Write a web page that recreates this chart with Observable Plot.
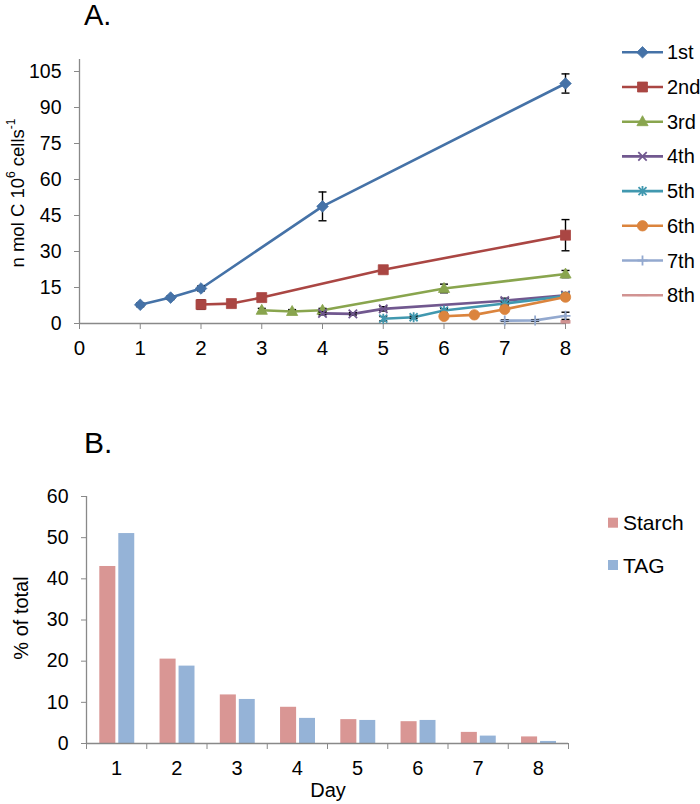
<!DOCTYPE html>
<html><head><meta charset="utf-8">
<script src="https://cdn.jsdelivr.net/npm/d3@7"></script>
<script src="https://cdn.jsdelivr.net/npm/@observablehq/plot@0.6"></script>
<style>
body{margin:0;background:#fff;}
#wrap{position:relative;width:700px;height:804px;overflow:hidden;font-family:"Liberation Sans",Arial,sans-serif;background:#fff;}
#wrap > svg{position:absolute;left:0;}
</style></head><body><div id="wrap"></div>
<script>
// ---------- Panel A data ----------
const seriesNames = ["1st","2nd","3rd","4th","5th","6th","7th","8th"];
const seriesColors = ["#4572A7","#AA4643","#89A54E","#71588F","#4198AF","#DB843D","#93A9CF","#D19392"];
const days1 = [1, 1.5, 2, 4, 8];   const vals1 = [7.8, 10.8, 14.6, 48.8, 100];  const errs1 = [0.8, 0.8, 1, 6, 4];
const days2 = [2, 2.5, 3, 5, 8];   const vals2 = [7.9, 8.3, 10.8, 22.4, 36.8];  const errs2 = [2, 0.8, 0.8, 1.5, 6.5];
const days3 = [3, 3.5, 4, 6, 8];   const vals3 = [5.5, 5, 5.5, 14.6, 20.6];     const errs3 = [0.8, 0.8, 0.8, 1.8, 1.5];
const days4 = [4, 4.5, 5, 7, 8];   const vals4 = [4.2, 4, 6.1, 9.5, 11.8];      const errs4 = [0.6, 0.5, 0.9, 1, 1];
const days5 = [5, 5.5, 6, 7, 8];   const vals5 = [2, 2.6, 5.4, 8.3, 11.4];      const errs5 = [0.9, 0.5, 0.8, 0.8, 0.8];
const days6 = [6, 6.5, 7, 8];      const vals6 = [3, 3.6, 5.9, 11];             const errs6 = [0.5, 0.5, 0.8, 1];
const days7 = [7, 7.5, 8];         const vals7 = [1.2, 1.3, 3.2];               const errs7 = [0.3, 0.3, 1.5];
const days8 = [8];                 const vals8 = [0.7];                          const errs8 = [0.3];
const xTicksA = [0, 1, 2, 3, 4, 5, 6, 7, 8];
const yTicksA = [0, 15, 30, 45, 60, 75, 90, 105];

// ---------- Panel B data ----------
const daysB = [1, 2, 3, 4, 5, 6, 7, 8];
const starch = [43, 20.5, 11.8, 8.8, 5.8, 5.3, 2.7, 1.6];
const tag    = [51, 18.8, 10.7, 6.1, 5.6, 5.6, 1.8, 0.5];
const yTicksB = [0, 10, 20, 30, 40, 50, 60];
const barNames = ["Starch", "TAG"];
const barColors = ["#D99694", "#95B3D7"];

// ---------- symbols ----------
const sym = {
  diamond: {draw(c){c.moveTo(0,-5.8);c.lineTo(5.8,0);c.lineTo(0,5.8);c.lineTo(-5.8,0);c.closePath();}},
  square: {draw(c){c.moveTo(-5,-5);c.lineTo(5,-5);c.lineTo(5,5);c.lineTo(-5,5);c.closePath();}},
  triangle: {draw(c){c.moveTo(0,-6);c.lineTo(5.6,4);c.lineTo(-5.6,4);c.closePath();}},
  times: {draw(c){c.moveTo(-4.2,-4.2);c.lineTo(4.2,4.2);c.moveTo(-4.2,4.2);c.lineTo(4.2,-4.2);}},
  asterisk: {draw(c){c.moveTo(-4,-4);c.lineTo(4,4);c.moveTo(-4,4);c.lineTo(4,-4);c.moveTo(0,-5);c.lineTo(0,5);}},
  circle: {draw(c){c.moveTo(5.2,0);c.arc(0,0,5.2,0,2*Math.PI);c.closePath();}},
  plus: {draw(c){c.moveTo(-5,0);c.lineTo(5,0);c.moveTo(0,-5);c.lineTo(0,5);}},
  dash: {draw(c){c.moveTo(-5,0);c.lineTo(5,0);}},
  cap: {draw(c){c.moveTo(-4,0);c.lineTo(4,0);}}
};
const seriesSymbols = [sym.diamond, sym.square, sym.triangle, sym.times, sym.asterisk, sym.circle, sym.plus, sym.dash];
const filledSym = [true, true, true, false, false, true, false, false];

const allDays = [days1,days2,days3,days4,days5,days6,days7,days8];
const allVals = [vals1,vals2,vals3,vals4,vals5,vals6,vals7,vals8];
const allErrs = [errs1,errs2,errs3,errs4,errs5,errs6,errs7,errs8];

const FONT = '"Liberation Sans", Arial, sans-serif';
const AXIS = "#898989";

// ---------- Panel A ----------
const marksA = [
  Plot.ruleY([0], {stroke: AXIS, strokeWidth: 1.3}),
  Plot.ruleX([0], {stroke: AXIS, strokeWidth: 1.3}),
  Plot.axisY({ticks: yTicksA, tickSize: 5, tickPadding: 13, stroke: AXIS, fill: "#000", fontSize: 19.5, label: null}),
  Plot.axisX({ticks: xTicksA, tickSize: 6, tickPadding: 11, stroke: AXIS, fill: "#000", fontSize: 20.5, label: null})
];
seriesNames.forEach((name, i) => {
  const rows = allDays[i].map((d, j) => ({series: name, x: d, y: allVals[i][j], lo: allVals[i][j] - allErrs[i][j], hi: allVals[i][j] + allErrs[i][j]}));
  const col = seriesColors[i];
  marksA.push(Plot.line(rows, {x: "x", y: "y", stroke: col, strokeWidth: 2.6}));
  marksA.push(Plot.ruleX(rows, {x: "x", y1: "lo", y2: "hi", stroke: "#000", strokeWidth: 1.4}));
  marksA.push(Plot.dot(rows, {x: "x", y: "lo", r: 4, symbol: sym.cap, stroke: "#000", fill: "none", strokeWidth: 1.4}));
  marksA.push(Plot.dot(rows, {x: "x", y: "hi", r: 4, symbol: sym.cap, stroke: "#000", fill: "none", strokeWidth: 1.4}));
  marksA.push(Plot.dot(rows, {x: "x", y: "y", r: 5, symbol: seriesSymbols[i],
    fill: filledSym[i] ? col : "none", stroke: col, strokeWidth: filledSym[i] ? 0.8 : (i === 7 ? 3.5 : 1.8)}));
});

const chartA = Plot.plot({
  width: 700, height: 360,
  marginLeft: 79, marginRight: 135, marginTop: 59, marginBottom: 37,
  x: {domain: [0, 8], label: null},
  y: {domain: [0, 110], label: null},
  style: {fontFamily: FONT, fontSize: "18px", background: "transparent", overflow: "visible", color: "#000"},
  marks: marksA
});
chartA.style.top = "0px";
document.getElementById("wrap").appendChild(chartA);

// ---------- Panel B ----------
const rowsB = daysB.map((d, i) => ({day: d, starch: starch[i], tag: tag[i]}));
const bounds = d3.range(daysB[0] - 0.5, daysB[daysB.length - 1] + 1, 1);
const chartB = Plot.plot({
  width: 700, height: 384,
  marginLeft: 86, marginRight: 132, marginTop: 76, marginBottom: 61,
  x: {domain: [0.5, 8.5], label: null},
  y: {domain: [0, 60], label: null},
  style: {fontFamily: FONT, fontSize: "18px", background: "transparent", overflow: "visible", color: "#000"},
  marks: [
    Plot.rectY(rowsB, {x1: d => d.day - 0.5, x2: d => d.day + 0.5, y: "starch", fill: barColors[0], insetLeft: 13.3, insetRight: 30.9}),
    Plot.rectY(rowsB, {x1: d => d.day - 0.5, x2: d => d.day + 0.5, y: "tag", fill: barColors[1], insetLeft: 32.3, insetRight: 12}),
    Plot.ruleY([0], {stroke: AXIS, strokeWidth: 1.3}),
    Plot.ruleX([0.5], {stroke: AXIS, strokeWidth: 1.3}),
    Plot.axisY({ticks: yTicksB, tickSize: 5, tickPadding: 13, stroke: AXIS, fill: "#000", fontSize: 19.5, label: null}),
    Plot.axisX({ticks: daysB, tickSize: 0, tickPadding: 17, fill: "#000", fontSize: 20, label: null}),
    Plot.axisX({ticks: bounds, tickSize: 6, tickFormat: () => "", stroke: AXIS, label: null})
  ]
});
chartB.style.top = "420px";
document.getElementById("wrap").appendChild(chartB);

// ---------- titles, axis titles, legends ----------
const ov = d3.select("#wrap").append("svg")
  .attr("width", 700).attr("height", 804)
  .style("top", "0px").style("pointer-events", "none")
  .style("font-family", FONT);

ov.append("text").attr("x", 84).attr("y", 25).attr("font-size", 29).text("A.");
ov.append("text").attr("x", 84).attr("y", 453).attr("font-size", 30).text("B.");

const ya = ov.append("text").attr("transform", "translate(17,193) rotate(-90)")
  .attr("text-anchor", "middle").attr("dominant-baseline", "central").attr("font-size", 18.5);
ya.append("tspan").text("n mol C 10");
ya.append("tspan").attr("font-size", 12).attr("dy", -6).text("6");
ya.append("tspan").attr("dy", 6).text(" cells");
ya.append("tspan").attr("font-size", 12).attr("dy", -6).text("-1");

ov.append("text").attr("transform", "translate(21,618) rotate(-90)")
  .attr("text-anchor", "middle").attr("dominant-baseline", "central").attr("font-size", 20).text("% of total");
ov.append("text").attr("x", 328).attr("y", 797).attr("text-anchor", "middle").attr("font-size", 20).text("Day");

// legend A
seriesNames.forEach((name, i) => {
  const cy = 52.3 + i * 34.7;
  const g = ov.append("g");
  g.append("line").attr("x1", 622).attr("x2", 663).attr("y1", cy).attr("y2", cy)
    .attr("stroke", seriesColors[i]).attr("stroke-width", 2.6);
  const p = d3.path(); seriesSymbols[i].draw(p);
  g.append("path").attr("d", p.toString()).attr("transform", `translate(642.5,${cy})`)
    .attr("fill", filledSym[i] ? seriesColors[i] : "none").attr("stroke", seriesColors[i])
    .attr("stroke-width", filledSym[i] ? 0.8 : 1.8);
  g.append("text").attr("x", 667).attr("y", cy).attr("dominant-baseline", "central")
    .attr("font-size", 20).text(name);
});

// legend B
barNames.forEach((name, i) => {
  const cy = 522.7 + i * 42.3;
  ov.append("rect").attr("x", 608).attr("y", cy - 5).attr("width", 10).attr("height", 10).attr("fill", barColors[i]);
  ov.append("text").attr("x", 623).attr("y", cy).attr("dominant-baseline", "central").attr("font-size", 21).text(name);
});
</script></body></html>
